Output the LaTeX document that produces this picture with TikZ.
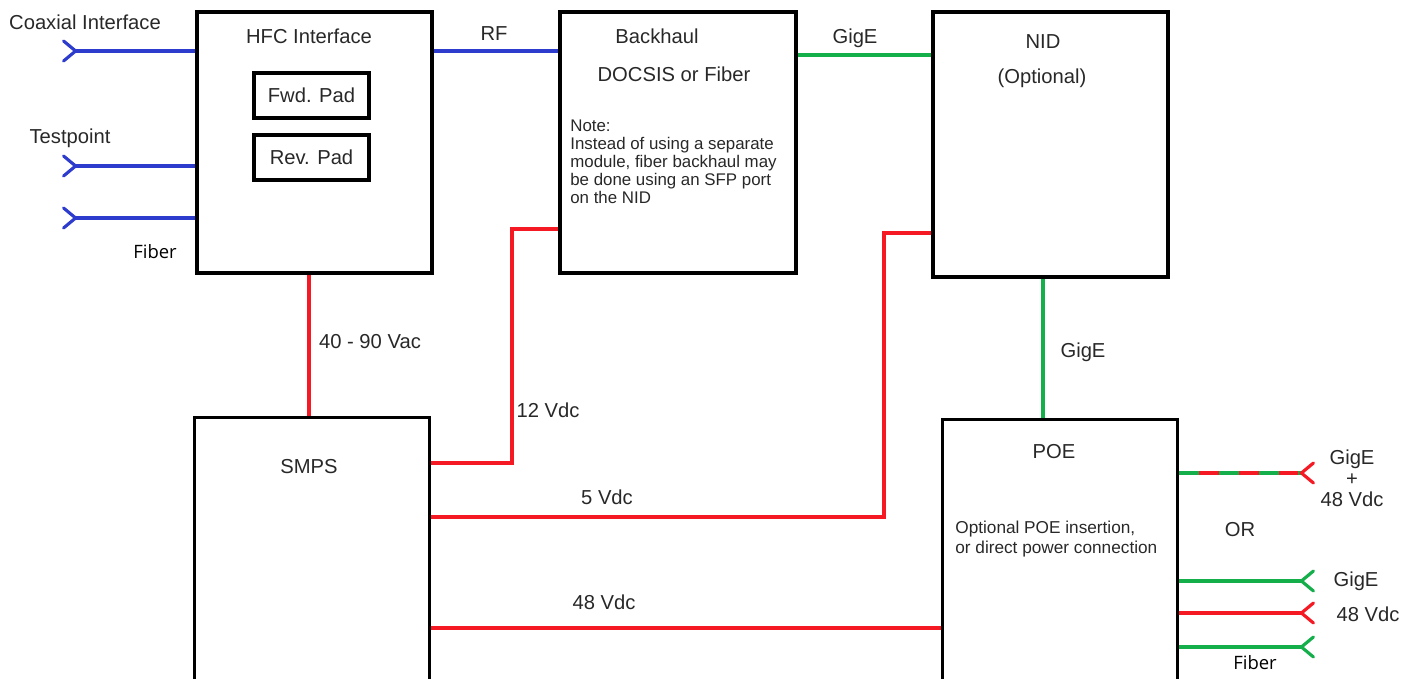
\documentclass[tikz,border=0pt]{standalone}
\usepackage{fontspec}
\setmainfont{Liberation Sans}
\newfontfamily\fiberfont{Open Sans}
\usetikzlibrary{arrows.meta, positioning}
\definecolor{coaxblue}{RGB}{45, 60, 205}
\definecolor{pwrred}{RGB}{245, 25, 35}
\definecolor{gigegreen}{RGB}{20, 175, 75}
\definecolor{txtgray}{RGB}{40, 40, 40}

\begin{document}
\begin{tikzpicture}[
    x=0.02cm, y=-0.02cm,
    block/.style={rectangle, draw=black, line width=2pt, minimum width=4.7cm, inner sep=0pt},
    padbox/.style={rectangle, draw=black, line width=2pt, minimum width=2.3cm, minimum height=0.9cm, font=\fontsize{11.5}{13}\selectfont, text=txtgray},
    lbl/.style={font=\fontsize{11.5}{13}\selectfont, text=txtgray, inner sep=0pt, align=center},
    note/.style={font=\fontsize{9.6}{10.2}\selectfont, text=txtgray, inner sep=0pt, align=left},
    fib/.style={font=\fiberfont\fontsize{10.5}{12}\selectfont, text=black, inner sep=0pt},
    fork/.style={-{Straight Barb[reversed, length=0.24cm, width=0.4cm, line cap=round]}},
    coax/.style={fork, line width=1.8pt, draw=coaxblue},
    pwr/.style={line width=1.8pt, draw=pwrred},
    gige/.style={line width=1.8pt, draw=gigegreen}
]
    \clip (0,0) rectangle (1414,679);

    % Blocks
    \node[block, minimum height=5.22cm] (hfc) at (314.5, 142.5) {};
    \node[padbox] (fwd) at (311.5, 95.5) {Fwd. Pad};
    \node[padbox] (rev) at (311.5, 157.5) {Rev. Pad};
    \node[block, minimum width=4.72cm, minimum height=5.22cm] (back) at (678, 142.5) {};
    \node[block, minimum height=5.3cm] (nid) at (1050.5, 144.5) {};
    \node[block, minimum height=5.7cm] (smps) at (312, 418+142) {};
    \node[block, minimum height=5.7cm] (poe) at (1060, 420+142) {};

    % Block titles
    \node[lbl] (hfc_t) at (309, 36) {HFC Interface};
    \node[lbl] (back_t) at (657, 36) {Backhaul};
    \node[lbl] (back_s) at (674, 74) {DOCSIS or Fiber};
    \node[note, anchor=north west] (back_n) at (570, 120) {Note:\\Instead of using a separate\\module, fiber backhaul may\\be done using an SFP port\\on the NID};
    \node[lbl] (nid_t) at (1043, 42) {NID};
    \node[lbl] (nid_s) at (1042, 78) {(Optional)};
    \node[lbl] (smps_t) at (309, 467) {SMPS};
    \node[lbl] (poe_t) at (1054, 452) {POE};
    \node[note, anchor=west, font=\fontsize{9.8}{11.4}\selectfont] (poe_n) at (955, 539) {Optional POE insertion,\\or direct power connection};

    % Coax inputs
    \coordinate (coaxin) at (62, 51);
    \coordinate (tpin) at (62, 166);
    \coordinate (fibin) at (62, 218);
    \draw[coax] (coaxin -| hfc.west) -- (coaxin);
    \draw[coax] (tpin -| hfc.west) -- (tpin);
    \draw[coax] (fibin -| hfc.west) -- (fibin);
    \node[lbl] (coax_l) at (85, 22) {Coaxial Interface};
    \node[lbl] (tp_l) at (70, 138) {Testpoint};
    \node[fib] (fib_l) at (155, 252) {Fiber};

    % Signal links
    \draw[line width=1.8pt, draw=coaxblue] (hfc.east |- 0,51) -- (back.west |- 0,51);
    \node[lbl] (rf_l) at (494, 34) {RF};
    \draw[gige] (back.east |- 0,55) -- (nid.west |- 0,55);
    \node[lbl] (gige1_l) at (855, 38) {GigE};
    \draw[gige] (nid.south -| 1043,0) -- (poe.north -| 1043,0);
    \node[lbl] (gige2_l) at (1083, 352) {GigE};

    % Power
    \draw[pwr] (hfc.south -| 309,0) -- (smps.north -| 309,0);
    \node[lbl] (vac_l) at (370, 342) {40 - 90 Vac};
    \draw[pwr] (smps.east |- 0,463) -- (512,463) |- (back.west |- 0,229);
    \node[lbl] (v12_l) at (548, 410) {12 Vdc};
    \draw[pwr] (smps.east |- 0,517) -- (884,517) |- (nid.west |- 0,233);
    \node[lbl] (v5_l) at (607, 497) {5 Vdc};
    \draw[pwr] (smps.east |- 0,628) -- (poe.west |- 0,628);
    \node[lbl] (v48_l) at (604, 602) {48 Vdc};

    % POE outputs
    \coordinate (combo) at (1315, 473);
    \coordinate (gout) at (1315, 581);
    \coordinate (pout) at (1315, 613);
    \coordinate (fout) at (1315, 647);
    \draw[gige, -{Straight Barb[reversed, length=0.24cm, width=0.4cm, line cap=round, color=pwrred]}] (poe.east |- combo) -- (combo);
    \draw[pwr, dash pattern=on 11.3pt off 11.3pt, dash phase=11.3pt] (poe.east |- combo) -- (1298, 473);
    \node[lbl] (combo_l) at (1352, 478) {GigE\\[-1pt]+\\[-1pt]48 Vdc};
    \node[lbl] (or_l) at (1240, 530) {OR};
    \draw[gige, fork] (poe.east |- gout) -- (gout);
    \node[lbl] (gout_l) at (1356, 581) {GigE};
    \draw[pwr, fork] (poe.east |- pout) -- (pout);
    \node[lbl] (pout_l) at (1368, 614) {48 Vdc};
    \draw[gige, fork] (poe.east |- fout) -- (fout);
    \node[fib] (fout_l) at (1255, 663) {Fiber};
\end{tikzpicture}
\end{document}
